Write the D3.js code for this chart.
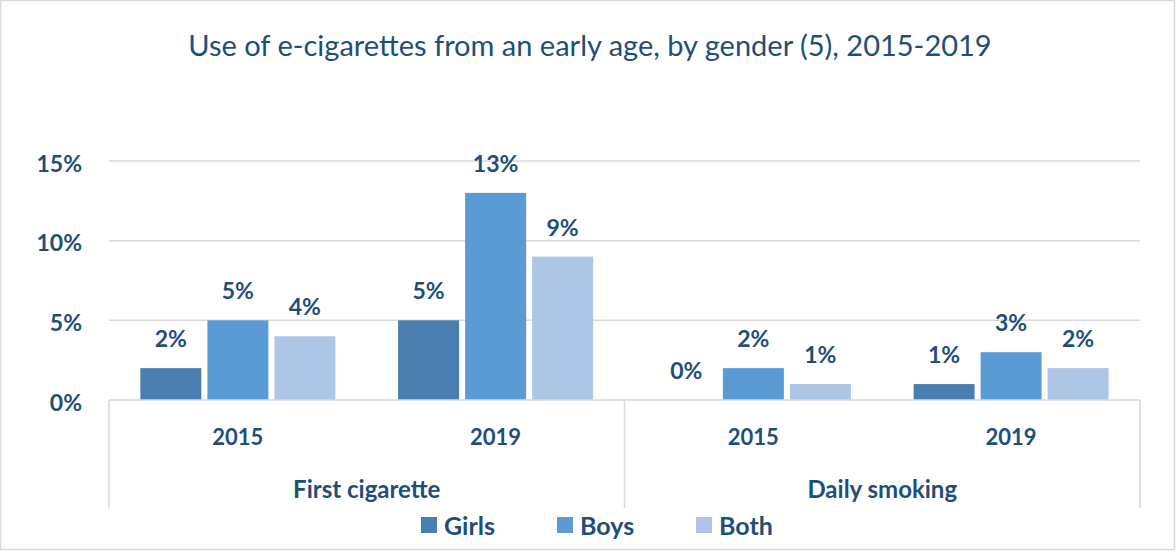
<!DOCTYPE html>
<html>
<head>
<meta charset="utf-8">
<script src="https://cdn.jsdelivr.net/npm/d3@7/dist/d3.min.js"></script>
<style>
  html, body { margin: 0; padding: 0; background: #fff; }
  svg { display: block; font-family: Lato, "Open Sans", sans-serif; }
</style>
</head>
<body>
<svg id="chart" width="1176" height="552"></svg>
<script>
// Chart data
const groups = ["First cigarette", "Daily smoking"];
const years = ["2015", "2019"];
const series = ["Girls", "Boys", "Both"];
const colors = ["#4a7eb0", "#5b9bd5", "#adc6e5"];
// values[year] = [Girls, Boys, Both] in %
const firstCigarette = [[2, 5, 4], [5, 13, 9]];
const dailySmoking = [[0, 2, 1], [1, 3, 2]];
const yTicks = [0, 5, 10, 15];

const textColor = "#1f4e79";
const svg = d3.select("#chart");
const W = 1176, H = 552;

// outer frame
svg.append("rect").attr("x", 0.5).attr("y", 0.5).attr("width", W - 2).attr("height", H - 3)
  .attr("fill", "#fff").attr("stroke", "#d9d9d9").attr("stroke-width", 1.5);

svg.append("text").attr("x", 590).attr("y", 56).attr("text-anchor", "middle")
  .attr("fill", textColor).attr("font-size", 29)
  .text("Use of e-cigarettes from an early age, by gender (5), 2015-2019");

const plotLeft = 109, plotRight = 1140, plotTop = 161, plotBase = 400;
const y = d3.scaleLinear().domain([0, 15]).range([plotBase, plotTop]);

// build the flat category list (group × year)
const cats = [];
[firstCigarette, dailySmoking].forEach((g, gi) => {
  years.forEach((yr, yi) => cats.push({ group: groups[gi], year: yr, key: gi + "-" + yi, values: g[yi] }));
});

const x0 = d3.scaleBand().domain(cats.map(d => d.key)).range([plotLeft, plotRight]).paddingInner(0).paddingOuter(0);
const x1 = d3.scaleBand().domain(series).range([0, x0.bandwidth()]).paddingInner(0.09).paddingOuter(0.468);

// gridlines
svg.append("g").selectAll("line").data(yTicks.filter(t => t > 0)).join("line")
  .attr("x1", plotLeft).attr("x2", plotRight).attr("y1", d => y(d)).attr("y2", d => y(d))
  .attr("stroke", "#d9d9d9").attr("stroke-width", 1.5);

// y axis labels
svg.append("g").selectAll("text").data(yTicks).join("text")
  .attr("x", 82).attr("y", d => y(d) + 10.5).attr("text-anchor", "end")
  .attr("fill", textColor).attr("font-size", 23).attr("font-weight", "bold")
  .text(d => d + "%");

// bars and value labels
const cg = svg.append("g").selectAll("g").data(cats).join("g")
  .attr("transform", d => `translate(${x0(d.key)},0)`);

cg.selectAll("rect").data(d => d.values.map((v, i) => ({ s: series[i], v, i }))).join("rect")
  .attr("x", d => x1(d.s)).attr("width", x1.bandwidth())
  .attr("y", d => y(d.v)).attr("height", d => plotBase - y(d.v))
  .attr("fill", d => colors[d.i]);

cg.selectAll("text").data(d => d.values.map((v, i) => ({ s: series[i], v, i }))).join("text")
  .attr("x", d => x1(d.s) + x1.bandwidth() / 2).attr("y", d => y(d.v) - 21)
  .attr("text-anchor", "middle").attr("fill", textColor)
  .attr("font-size", 23).attr("font-weight", "bold")
  .text(d => d.v + "%");

// category axis (two-level)
const ax = svg.append("g").attr("stroke", "#d9d9d9").attr("stroke-width", 1.5);
ax.append("line").attr("x1", plotLeft).attr("x2", plotRight).attr("y1", plotBase).attr("y2", plotBase);
[plotLeft, x0(cats[2].key), plotRight].forEach(xv => {
  ax.append("line").attr("x1", xv).attr("x2", xv).attr("y1", plotBase).attr("y2", 508);
});

svg.append("g").selectAll("text").data(cats).join("text")
  .attr("x", d => x0(d.key) + x0.bandwidth() / 2).attr("y", 445)
  .attr("text-anchor", "middle").attr("fill", textColor)
  .attr("font-size", 22).attr("font-weight", "bold").text(d => d.year);

svg.append("g").selectAll("text").data(groups).join("text")
  .attr("x", (d, i) => x0(cats[i * 2].key) + x0.bandwidth())
  .attr("y", 498).attr("text-anchor", "middle").attr("fill", textColor)
  .attr("font-size", 24).attr("font-weight", "bold").text(d => d);

// legend
const legendX = [421, 557, 696];
const lg = svg.append("g").selectAll("g").data(series).join("g")
  .attr("transform", (d, i) => `translate(${legendX[i]},517)`);
lg.append("rect").attr("width", 16).attr("height", 16).attr("fill", (d, i) => colors[i]);
lg.append("text").attr("x", 23).attr("y", 17.5).attr("fill", textColor)
  .attr("font-size", 25).attr("font-weight", "bold").text(d => d);
</script>
</body>
</html>
